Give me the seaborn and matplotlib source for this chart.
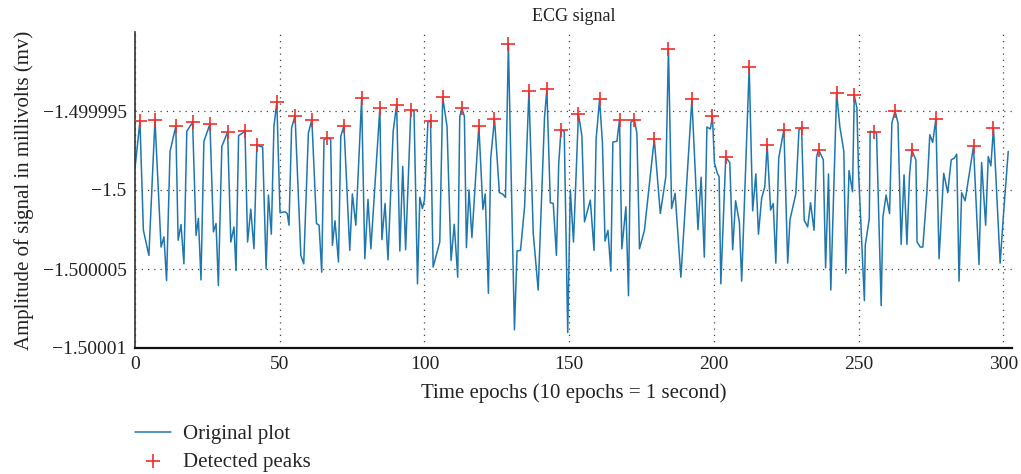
import matplotlib
matplotlib.use("Agg")
import matplotlib.pyplot as plt
import seaborn as sns
import pandas as pd

# ---- data (time epoch, amplitude in mV) ----
epochs = [
    0.0, 1.7, 2.9, 4.8, 6.9, 9.0, 10.0, 10.9, 12.1, 14.1, 14.9, 15.9, 16.9, 17.9, 19.9,
    21.1, 21.9, 22.8, 23.8, 25.9, 27.1, 28.0, 28.8, 30.0, 32.0, 33.1, 34.2, 34.9, 35.8,
    38.0, 38.9, 40.0, 41.1, 42.1, 44.1, 45.3, 46.1, 47.1, 48.0, 49.0, 50.1, 51.8, 52.6,
    53.2, 54.1, 55.3, 57.3, 58.3, 59.9, 61.1, 62.7, 63.6, 64.5, 65.3, 66.2, 67.6, 68.2,
    69.1, 70.3, 71.1, 72.2, 74.2, 75.1, 76.3, 78.3, 79.4, 80.5, 81.5, 84.6, 85.3, 86.4,
    87.4, 89.2, 90.4, 91.5, 92.5, 93.5, 95.3, 96.4, 97.6, 98.4, 99.3, 100.0, 101.2, 102.1,
    103.0, 105.3, 106.3, 107.8, 109.2, 110.3, 111.5, 112.2, 112.9, 113.8, 114.5, 115.4,
    116.4, 118.8, 120.2, 121.0, 122.1, 122.9, 124.2, 125.9, 127.0, 128.0, 129.0, 131.1,
    132.0, 133.2, 134.6, 136.1, 137.6, 139.3, 141.5, 142.3, 143.5, 144.5, 145.6, 146.4,
    147.2, 148.3, 149.5, 150.4, 151.5, 153.2, 154.4, 155.3, 157.3, 158.6, 159.3, 160.5,
    161.5, 162.4, 163.4, 164.4, 165.1, 166.5, 167.4, 168.2, 169.6, 170.5, 171.3, 172.5,
    173.4, 174.3, 176.0, 179.4, 181.5, 183.4, 184.3, 185.4, 186.6, 188.6, 192.4, 194.5,
    195.6, 196.7, 197.6, 198.8, 199.5, 200.2, 201.2, 201.8, 202.4, 204.1, 205.5, 206.5,
    207.5, 208.8, 209.6, 212.2, 213.4, 214.5, 215.4, 216.5, 217.6, 218.4, 219.6, 220.5,
    221.4, 222.4, 224.2, 225.5, 226.3, 228.3, 229.4, 230.3, 231.2, 232.4, 233.4, 234.6,
    235.5, 236.2, 237.8, 238.6, 239.6, 240.4, 242.4, 243.5, 244.9, 245.6, 246.7, 247.9,
    248.5, 249.4, 250.0, 252.0, 252.3, 253.7, 254.0, 255.4, 256.2, 257.8, 258.4, 259.5,
    260.7, 261.5, 262.6, 263.6, 264.7, 265.7, 266.7, 267.6, 268.4, 269.8, 270.2, 271.3,
    272.2, 273.6, 274.6, 275.6, 276.7, 277.8, 279.4, 280.8, 282.0, 283.1, 283.9, 284.7,
    285.6, 286.8, 289.7, 291.6, 292.5, 293.9, 294.8, 295.7, 296.6, 298.9, 300.0, 301.7,
]
amplitude = [
    -1.49999862, -1.49999565, -1.50000255, -1.50000414, -1.49999554, -1.50000361, -1.50000297,
    -1.50000573, -1.49999756, -1.49999597, -1.50000318, -1.50000219, -1.50000467, -1.49999628,
    -1.49999571, -1.50000287, -1.50000180, -1.50000569, -1.49999692, -1.49999582, -1.50000265,
    -1.50000212, -1.50000605, -1.49999724, -1.49999633, -1.50000329, -1.50000234, -1.50000510,
    -1.49999656, -1.49999628, -1.50000329, -1.50000121, -1.50000372, -1.49999718, -1.49999728,
    -1.50000499, -1.50000032, -1.50000280, -1.49999597, -1.49999444, -1.50000144, -1.50000138,
    -1.50000149, -1.50000223, -1.49999607, -1.49999529, -1.50000414, -1.50000467, -1.49999639,
    -1.49999554, -1.50000212, -1.50000223, -1.50000520, -1.49999682, -1.49999671, -1.49999677,
    -1.50000350, -1.50000195, -1.50000456, -1.49999660, -1.49999592, -1.50000382, -1.50000025,
    -1.50000223, -1.49999420, -1.50000435, -1.50000059, -1.50000372, -1.49999480, -1.50000314,
    -1.50000085, -1.50000442, -1.49999628, -1.49999459, -1.50000386, -1.49999851, -1.50000378,
    -1.49999495, -1.49999501, -1.50000594, -1.50000047, -1.50000117, -1.50000064, -1.49999570,
    -1.49999562, -1.50000488, -1.50000329, -1.49999412, -1.49999597, -1.50000446, -1.50000217,
    -1.50000552, -1.49999537, -1.49999484, -1.49999533, -1.50000365, -1.50000000, -1.50000301,
    -1.49999592, -1.50000123, -1.50000025, -1.50000654, -1.49999798, -1.49999550, -1.50000017,
    -1.50000025, -1.50000047, -1.49999079, -1.50000885, -1.50000386, -1.50000382, -1.50000106,
    -1.49999374, -1.50000276, -1.50000633, -1.49999537, -1.49999363, -1.50000081, -1.50000085,
    -1.50000414, -1.49999830, -1.49999618, -1.49999628, -1.50000902, -1.50000000, -1.50000329,
    -1.49999518, -1.49999656, -1.50000202, -1.50000064, -1.50000382, -1.49999682, -1.49999425,
    -1.49999703, -1.50000323, -1.50000255, -1.50000514, -1.49999696, -1.49999692, -1.49999554,
    -1.50000372, -1.50000106, -1.50000669, -1.49999571, -1.49999554, -1.49999639, -1.50000372,
    -1.50000255, -1.49999677, -1.50000149, -1.49999915, -1.49999108, -1.50000117, -1.50000021,
    -1.50000552, -1.49999427, -1.50000251, -1.49999919, -1.50000425, -1.49999601, -1.49999614,
    -1.49999533, -1.49999830, -1.49999894, -1.49999915, -1.50000594, -1.49999794, -1.49999826,
    -1.50000378, -1.50000068, -1.50000202, -1.50000577, -1.49999221, -1.50000132, -1.49999898,
    -1.50000280, -1.50000053, -1.49999979, -1.49999713, -1.50000127, -1.50000085, -1.50000463,
    -1.49999798, -1.49999618, -1.50000463, -1.50000187, -1.50000025, -1.49999618, -1.49999607,
    -1.50000191, -1.50000234, -1.50000081, -1.50000255, -1.49999788, -1.49999745, -1.49999809,
    -1.50000493, -1.49999898, -1.50000633, -1.49999384, -1.49999597, -1.49999756, -1.50000527,
    -1.49999877, -1.50000011, -1.49999401, -1.49999480, -1.49999894, -1.50000700, -1.50000350,
    -1.50000180, -1.49999628, -1.49999635, -1.49999639, -1.50000732, -1.50000170, -1.50000032,
    -1.50000149, -1.49999575, -1.49999501, -1.49999575, -1.50000344, -1.49999904, -1.50000344,
    -1.49999904, -1.49999749, -1.49999809, -1.50000329, -1.50000361, -1.50000361, -1.50000011,
    -1.49999650, -1.49999699, -1.49999550, -1.50000435, -1.49999894, -1.50000017, -1.49999809,
    -1.49999798, -1.49999773, -1.50000577, -1.50000017, -1.50000068, -1.49999724, -1.50000471,
    -1.49999826, -1.50000223, -1.49999788, -1.49999847, -1.49999607, -1.50000463, -1.50000170,
    -1.49999756,
]
peak_epochs = [
    1.7, 6.9, 14.1, 19.9, 25.9, 32.0, 38.0, 42.1, 49.0, 55.3, 61.1, 66.2, 72.2, 78.3, 84.6,
    90.4, 95.3, 102.1, 106.3, 112.9, 118.8, 124.2, 129.0, 136.1, 142.3, 147.2, 153.2, 160.5,
    167.4, 172.5, 179.4, 184.3, 192.4, 199.5, 204.1, 212.2, 218.4, 224.2, 230.3, 236.2,
    242.4, 248.5, 255.4, 262.6, 268.4, 276.7, 289.7, 296.6,
]
peak_amplitude = [
    -1.49999565, -1.49999554, -1.49999597, -1.49999571, -1.49999582, -1.49999633, -1.49999628,
    -1.49999718, -1.49999444, -1.49999529, -1.49999554, -1.49999671, -1.49999592, -1.49999420,
    -1.49999480, -1.49999459, -1.49999495, -1.49999562, -1.49999412, -1.49999484, -1.49999592,
    -1.49999550, -1.49999079, -1.49999374, -1.49999363, -1.49999618, -1.49999518, -1.49999425,
    -1.49999554, -1.49999554, -1.49999677, -1.49999108, -1.49999427, -1.49999533, -1.49999794,
    -1.49999221, -1.49999713, -1.49999618, -1.49999607, -1.49999745, -1.49999384, -1.49999401,
    -1.49999635, -1.49999501, -1.49999749, -1.49999550, -1.49999724, -1.49999607,
]
x_ticks = [0, 50, 100, 150, 200, 250, 300]
x_tick_labels = ["0", "50", "100", "150", "200", "250", "300"]
y_ticks = [-1.50001, -1.500005, -1.5, -1.499995]
y_tick_labels = ["\u22121.50001", "\u22121.500005", "\u22121.5", "\u22121.499995"]

title_text = "ECG signal"
x_label = "Time epochs (10 epochs = 1 second)"
y_label = "Amplitude of signal in millivolts (mv)"
series_names = ["Original plot", "Detected peaks"]

signal_df = pd.DataFrame({"epoch": epochs, "amp": amplitude})
peaks_df = pd.DataFrame({"epoch": peak_epochs, "amp": peak_amplitude})

sns.set_theme(style="white")
plt.rcParams["font.family"] = ["Liberation Serif", "DejaVu Serif"]

fig = plt.figure(figsize=(10.21, 4.74), dpi=100)
ax = fig.add_axes([135 / 1021, 1 - 348 / 474, (1012 - 135) / 1021, (348 - 32) / 474])

line_color = "#1f77ad"
peak_color = "#f0302a"

sns.lineplot(data=signal_df, x="epoch", y="amp", ax=ax, color=line_color,
             linewidth=1.1, estimator=None, sort=False, label=series_names[0], legend=False)
sns.scatterplot(data=peaks_df, x="epoch", y="amp", ax=ax, marker="+", s=110,
                color=peak_color, linewidth=1.2, label=series_names[1], legend=False, zorder=3)

ax.set_xlim(0, 303)
ax.set_ylim(-1.50001, -1.49999)
ax.set_xticks(x_ticks, x_tick_labels)
ax.set_yticks(y_ticks, y_tick_labels)
ax.tick_params(axis="both", direction="in", length=2, labelsize=14, colors="#222222",
               pad=6)

ax.grid(True, linestyle=(0, (1, 4)), color="#444444", linewidth=0.9)
for side in ["top", "right"]:
    ax.spines[side].set_visible(False)
ax.spines["left"].set_color("#333333")
ax.spines["bottom"].set_color("#111111")
ax.spines["left"].set_linewidth(1.2)
ax.spines["bottom"].set_linewidth(1.6)

ax.set_title(title_text, fontsize=13, pad=8, color="#222222")
ax.set_xlabel(x_label, fontsize=15, color="#222222", labelpad=7)
ax.set_ylabel(y_label, fontsize=15, color="#222222", labelpad=6)

handles, labels = ax.get_legend_handles_labels()
fig.legend(handles, labels, loc="upper left", bbox_to_anchor=(127 / 1021, 1 - 416 / 474),
           frameon=False, fontsize=15, handlelength=1.7, labelspacing=0.4,
           handletextpad=0.6, borderaxespad=0)

fig.savefig("out.png", dpi=100)
